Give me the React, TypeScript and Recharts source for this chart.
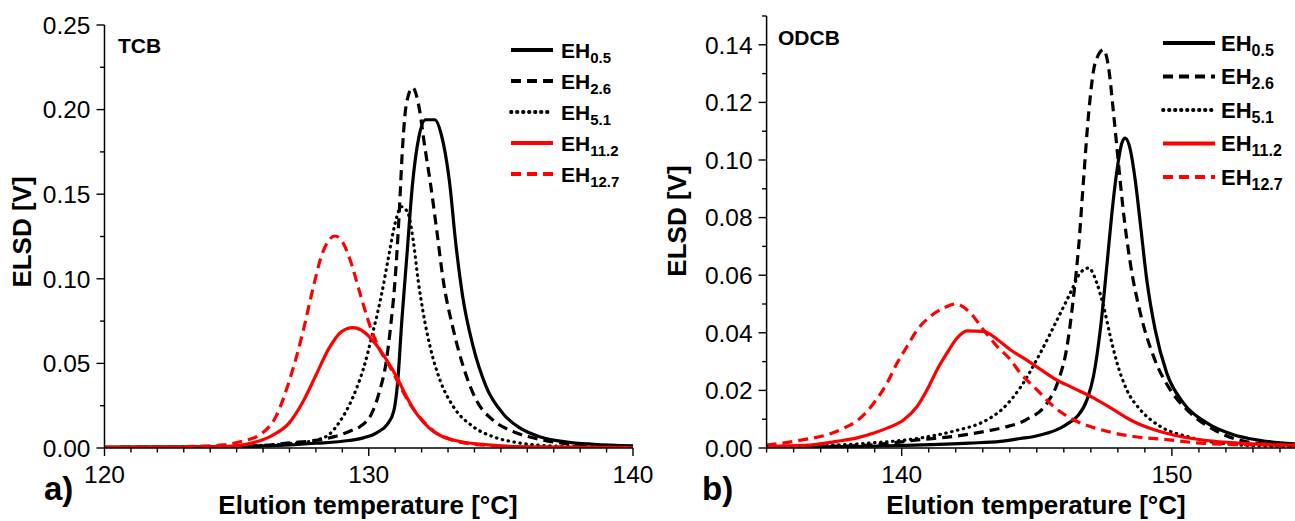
import React from 'react';
import { LineChart, Line, XAxis, YAxis, Legend } from 'recharts';

// ---------- TCB panel: elution temperature [°C] vs ELSD [V] ----------
const tcbEH05 = [
  [120, 0.0005], [124, 0.0007], [126, 0.0012], [127, 0.0018], [128, 0.0028], [129, 0.004],
  [129.8, 0.006], [130.3, 0.009], [130.7, 0.014], [130.95, 0.022], [131.1, 0.04], [131.25, 0.075],
  [131.45, 0.115], [131.65, 0.155], [131.9, 0.184], [132.15, 0.194], [132.5, 0.194], [132.75, 0.185],
  [133.05, 0.158], [133.3, 0.12], [133.55, 0.09], [133.95, 0.06], [134.45, 0.036], [135.1, 0.02],
  [135.7, 0.012], [136.5, 0.0065], [137.5, 0.0035], [138.5, 0.0022], [140, 0.0012],
];
const tcbEH26 = [
  [120, 0.0003], [124, 0.0005], [126, 0.0015], [127, 0.003], [128, 0.0045], [128.7, 0.0067],
  [129.3, 0.01], [129.7, 0.013], [130.1, 0.02], [130.4, 0.033], [130.65, 0.05], [130.85, 0.075],
  [131.0, 0.1], [131.15, 0.138], [131.28, 0.178], [131.43, 0.204], [131.66, 0.213], [131.92, 0.2],
  [132.12, 0.178], [132.32, 0.158], [132.57, 0.129], [132.82, 0.099], [133.2, 0.07], [133.58, 0.048],
  [134.08, 0.028], [134.7, 0.0165], [135.5, 0.0095], [136.5, 0.005], [137.5, 0.0025], [139, 0.001],
  [140, 0.0007],
];
const tcbEH51 = [
  [120, 0.0003], [124, 0.0006], [126, 0.0015], [127, 0.0025], [128, 0.0047], [128.5, 0.008],
  [128.9, 0.0155], [129.4, 0.03], [129.8, 0.047], [130.15, 0.068], [130.5, 0.092], [130.75, 0.113],
  [131.0, 0.133], [131.24, 0.1426], [131.48, 0.139], [131.68, 0.123], [131.87, 0.099], [132.06, 0.08],
  [132.32, 0.06], [132.7, 0.04], [133.2, 0.0245], [133.95, 0.0126], [134.7, 0.0067], [135.7, 0.003],
  [137, 0.0012], [140, 0.0005],
];
const tcbEH112 = [
  [120, 0.0003], [123, 0.0004], [124.5, 0.0008], [125.6, 0.003], [126.3, 0.007], [127, 0.015],
  [127.5, 0.027], [128.0, 0.043], [128.5, 0.059], [128.95, 0.0685], [129.4, 0.0711], [129.8, 0.0688],
  [130.23, 0.062], [130.68, 0.052], [131.06, 0.042], [131.43, 0.0303], [131.8, 0.0205], [132.3, 0.0116],
  [133.2, 0.0047], [134.5, 0.0018], [136, 0.0007], [140, 0.0003],
];
const tcbEH127 = [
  [120, 0.0004], [122, 0.0005], [123.5, 0.001], [124.5, 0.0018], [125.2, 0.004], [125.9, 0.008],
  [126.5, 0.019], [127.0, 0.04], [127.5, 0.068], [127.9, 0.095], [128.22, 0.114], [128.5, 0.123],
  [128.72, 0.1253], [129.0, 0.122], [129.3, 0.111], [129.67, 0.0914], [130.05, 0.072], [130.42, 0.058],
  [130.8, 0.048], [131.2, 0.036], [131.6, 0.025], [132.0, 0.017], [132.5, 0.0095], [133.2, 0.0045],
  [134.5, 0.0015], [136, 0.0006], [140, 0.0003],
];

// ---------- ODCB panel ----------
const odcbEH05 = [
  [135, 0.0003], [137, 0.0004], [138.8, 0.0006], [140.5, 0.001], [142.5, 0.0017], [143.65, 0.0023],
  [144.4, 0.0033], [144.9, 0.004], [145.4, 0.0052], [145.87, 0.0069], [146.2, 0.0088], [146.5, 0.011],
  [146.86, 0.0168], [147.1, 0.025], [147.35, 0.041], [147.6, 0.064], [147.78, 0.0816], [147.97, 0.0966],
  [148.15, 0.1059], [148.27, 0.1076], [148.46, 0.1036], [148.64, 0.0932], [148.83, 0.0781],
  [149.07, 0.0584], [149.38, 0.0411], [149.81, 0.026], [150.43, 0.0156], [151.29, 0.0087],
  [152.28, 0.0046], [152.9, 0.0032], [154, 0.0018], [155, 0.0012],
];
const odcbEH26 = [
  [135, 0.0002], [137, 0.0005], [138.8, 0.001], [140.7, 0.0029], [141.9, 0.004], [143.2, 0.006],
  [143.8, 0.0072], [144.6, 0.0098], [145.38, 0.0156], [145.81, 0.0237], [146.12, 0.0353],
  [146.36, 0.0526], [146.55, 0.07], [146.73, 0.0932], [146.92, 0.1163], [147.16, 0.1337],
  [147.47, 0.1383], [147.65, 0.1325], [147.84, 0.1163], [148.02, 0.099], [148.21, 0.0816],
  [148.46, 0.0642], [148.83, 0.0469], [149.32, 0.0318], [149.94, 0.0202], [150.68, 0.0122],
  [151.66, 0.0058], [152.6, 0.0025], [154, 0.001], [155, 0.0007],
];
const odcbEH51 = [
  [135, 0.0003], [137, 0.0008], [138.8, 0.0017], [140.7, 0.0035], [141.9, 0.0058], [143.16, 0.0098],
  [143.7, 0.0133], [144.39, 0.021], [145.13, 0.033], [145.75, 0.0445], [146.24, 0.0538],
  [146.61, 0.0608], [146.92, 0.0625], [147.22, 0.0573], [147.47, 0.0492], [147.72, 0.0388],
  [147.97, 0.0295], [148.33, 0.0202], [148.83, 0.0133], [149.57, 0.0075], [150.55, 0.004],
  [151.78, 0.0017], [153, 0.0008], [155, 0.0004],
];
const odcbEH112 = [
  [135, 0.0006], [136.4, 0.0009], [137.6, 0.0023], [138.35, 0.0035], [138.97, 0.0052], [139.46, 0.0069],
  [140.08, 0.0098], [140.57, 0.0144], [140.94, 0.0202], [141.31, 0.0272], [141.68, 0.033],
  [142.05, 0.0382], [142.42, 0.0407], [143.03, 0.0405], [143.55, 0.0376], [144.02, 0.0341],
  [144.5, 0.0313], [145.25, 0.0266], [145.62, 0.0243], [146.36, 0.0208], [147.1, 0.0174],
  [147.84, 0.0133], [148.58, 0.0092], [149.32, 0.0064], [150.31, 0.004], [151.29, 0.0026],
  [152.52, 0.0017], [154, 0.0011], [155, 0.001],
];
const odcbEH127 = [
  [135, 0.001], [136.38, 0.0029], [137.24, 0.0046], [137.86, 0.0069], [138.47, 0.0104], [138.97, 0.0156],
  [139.46, 0.0226], [139.83, 0.0295], [140.2, 0.0353], [140.57, 0.041], [141.06, 0.0457],
  [141.55, 0.0486], [142.0, 0.05], [142.54, 0.0469], [143.03, 0.041], [143.53, 0.0353],
  [144.02, 0.0307], [144.39, 0.026], [145.01, 0.0202], [145.62, 0.0144], [146.36, 0.0098],
  [147.35, 0.0064], [148.58, 0.004], [149.81, 0.0029], [151.04, 0.0017], [153, 0.0011], [155, 0.001],
];

// ---------- series labels & axis ticks ----------
const seriesSubs = ['0.5', '2.6', '5.1', '11.2', '12.7'];
const tcbXTicks = [120, 121, 122, 123, 124, 125, 126, 127, 128, 129, 130, 131, 132, 133, 134, 135, 136, 137, 138, 139, 140];
const tcbYTicks = [0, 0.025, 0.05, 0.075, 0.1, 0.125, 0.15, 0.175, 0.2, 0.225, 0.25];
const odcbXTicks = [135, 136, 137, 138, 139, 140, 141, 142, 143, 144, 145, 146, 147, 148, 149, 150, 151, 152, 153, 154, 155];
const odcbYTicks = [0, 0.01, 0.02, 0.03, 0.04, 0.05, 0.06, 0.07, 0.08, 0.09, 0.1, 0.11, 0.12, 0.13, 0.14, 0.15];

// ---------- styling ----------
const FONT = '"Liberation Sans", Arial, Helvetica, sans-serif';
const RED = '#ff0000';
const seriesColors = ['#000000', '#000000', '#000000', RED, RED];
const seriesDash = ['', '10 6', '0.5 5.5', '', '10 6'];
const seriesCap: ('butt' | 'round')[] = ['butt', 'butt', 'round', 'butt', 'butt'];
const seriesWidth = [3.2, 3.2, 3.2, 3.2, 3.2];
const AXIS = { stroke: '#000', strokeWidth: 1.5 };
const TICK_FS = 24.5;

const toPoints = (arr: number[][]) => arr.map(([t, v]) => ({ t, v }));
const tcbSeries = [tcbEH05, tcbEH26, tcbEH51, tcbEH112, tcbEH127].map(toPoints);
const odcbSeries = [odcbEH05, odcbEH26, odcbEH51, odcbEH112, odcbEH127].map(toPoints);

const makeXTick = (majorStep: number) => (props: any) => {
  const { x, y, payload } = props;
  const v = payload.value as number;
  const major = Math.abs(v % majorStep) < 1e-6;
  return (
    <g>
      <line x1={x} x2={x} y1={y} y2={y + (major ? 8 : 4.5)} stroke="#000" strokeWidth={1.4} />
      {major && (
        <text x={x} y={y + 35} textAnchor="middle" fontFamily={FONT} fontSize={TICK_FS} fill="#000">
          {v}
        </text>
      )}
    </g>
  );
};

const makeYTick = (majorStep: number, maxLabel: number) => (props: any) => {
  const { x, y, payload } = props;
  const v = payload.value as number;
  const k = Math.round(v / majorStep * 1000) / 1000;
  const major = Math.abs(k - Math.round(k)) < 1e-6;
  return (
    <g>
      <line x1={x - (major ? 8 : 4.5)} x2={x} y1={y} y2={y} stroke="#000" strokeWidth={1.4} />
      {major && v <= maxLabel + 1e-9 && (
        <text x={x - 14} y={y} dy="0.36em" textAnchor="end" fontFamily={FONT} fontSize={TICK_FS} fill="#000">
          {v.toFixed(2)}
        </text>
      )}
    </g>
  );
};

type LegendCfg = { len: number; gap: number; y0: number; dy: number; fs: number; sub: number; w: number; h: number };

const makeLegend = (cfg: LegendCfg) => () => (
  <svg width={cfg.w} height={cfg.h} style={{ display: 'block' }}>
    {seriesSubs.map((s, i) => {
      const cy = cfg.y0 + i * cfg.dy;
      return (
        <g key={s}>
          <line
            x1={2}
            x2={2 + cfg.len}
            y1={cy}
            y2={cy}
            stroke={seriesColors[i]}
            strokeWidth={seriesWidth[i] + 0.6}
            strokeDasharray={seriesDash[i] || undefined}
            strokeLinecap={seriesCap[i]}
          />
          <text x={2 + cfg.len + cfg.gap} y={cy + 7.5} fontFamily={FONT} fontWeight="bold" fontSize={cfg.fs} fill="#000">
            EH
            <tspan fontSize={cfg.sub} dy={5}>{s}</tspan>
          </text>
        </g>
      );
    })}
  </svg>
);

type PanelProps = {
  left: number;
  width: number;
  top: number;
  series: { t: number; v: number }[][];
  xDomain: [number, number];
  yDomain: [number, number];
  xTicks: number[];
  yTicks: number[];
  yMajor: number;
  yMaxLabel: number;
  yAxisWidth: number;
  rightMargin: number;
  legendPos: { left: number; top: number };
  legendCfg: LegendCfg;
};

function Panel(p: PanelProps) {
  return (
    <div style={{ position: 'absolute', left: p.left, top: 0 }}>
      <LineChart width={p.width} height={521} margin={{ top: p.top, right: p.rightMargin, bottom: 0, left: 0 }}>
        <XAxis
          dataKey="t"
          type="number"
          domain={p.xDomain}
          ticks={p.xTicks}
          interval={0}
          tickSize={0}
          tickMargin={0}
          tick={makeXTick(10)}
          height={73}
          axisLine={AXIS}
          allowDataOverflow
        />
        <XAxis xAxisId="top" orientation="top" type="number" domain={p.xDomain} height={0} tick={false} tickLine={false} axisLine={AXIS} />
        <YAxis
          type="number"
          domain={p.yDomain}
          ticks={p.yTicks}
          interval={0}
          tickSize={0}
          tickMargin={0}
          tick={makeYTick(p.yMajor, p.yMaxLabel)}
          width={p.yAxisWidth}
          axisLine={AXIS}
          allowDataOverflow
        />
        <YAxis yAxisId="right" orientation="right" type="number" domain={p.yDomain} width={0} tick={false} tickLine={false} axisLine={AXIS} />
        <Legend
          layout="vertical"
          align="center"
          verticalAlign="middle"
          content={makeLegend(p.legendCfg)}
          wrapperStyle={{ position: 'absolute', left: p.legendPos.left, top: p.legendPos.top, width: p.legendCfg.w, height: p.legendCfg.h }}
        />
        {p.series.map((d, i) => (
          <Line
            key={seriesSubs[i]}
            data={d}
            dataKey="v"
            name={'EH' + seriesSubs[i]}
            type="monotone"
            dot={false}
            activeDot={false}
            stroke={seriesColors[i]}
            strokeWidth={seriesWidth[i]}
            strokeDasharray={seriesDash[i] || undefined}
            strokeLinecap={seriesCap[i]}
            isAnimationActive={false}
          />
        ))}
      </LineChart>
    </div>
  );
}

export default function App() {
  return (
    <div style={{ position: 'absolute', left: 0, top: 0, width: 1295, height: 521, overflow: 'hidden', background: '#fff' }}>
      <Panel
        left={0}
        width={660}
        top={25}
        series={tcbSeries}
        xDomain={[120, 140]}
        yDomain={[0, 0.25]}
        xTicks={tcbXTicks}
        yTicks={tcbYTicks}
        yMajor={0.05}
        yMaxLabel={0.25}
        yAxisWidth={104.5}
        rightMargin={27}
        legendPos={{ left: 509, top: 30 }}
        legendCfg={{ len: 42, gap: 8, y0: 20, dy: 31, fs: 21, sub: 15, w: 130, h: 170 }}
      />
      <Panel
        left={660}
        width={680}
        top={16}
        series={odcbSeries}
        xDomain={[135, 155]}
        yDomain={[0, 0.15]}
        xTicks={odcbXTicks}
        yTicks={odcbYTicks}
        yMajor={0.02}
        yMaxLabel={0.14}
        yAxisWidth={106.6}
        rightMargin={33}
        legendPos={{ left: 501, top: 23 }}
        legendCfg={{ len: 52, gap: 6, y0: 20, dy: 33.5, fs: 22, sub: 16, w: 135, h: 180 }}
      />
      <svg width={1295} height={521} style={{ position: 'absolute', left: 0, top: 0, pointerEvents: 'none' }}>
        <g fontFamily={FONT} fontWeight="bold" fill="#000">
          <text x={118} y={53} fontSize={21}>TCB</text>
          <text x={778} y={45} fontSize={21}>ODCB</text>
          <text x={31} y={232} fontSize={26} textAnchor="middle" transform="rotate(-90 31 232)">ELSD [V]</text>
          <text x={686} y={221} fontSize={26} textAnchor="middle" transform="rotate(-90 686 221)">ELSD [V]</text>
          <text x={368} y={514} fontSize={26} textAnchor="middle">Elution temperature [°C]</text>
          <text x={1036} y={514} fontSize={26} textAnchor="middle">Elution temperature [°C]</text>
          <text x={44} y={500} fontSize={33}>a)</text>
          <text x={702} y={500} fontSize={33}>b)</text>
        </g>
      </svg>
    </div>
  );
}
